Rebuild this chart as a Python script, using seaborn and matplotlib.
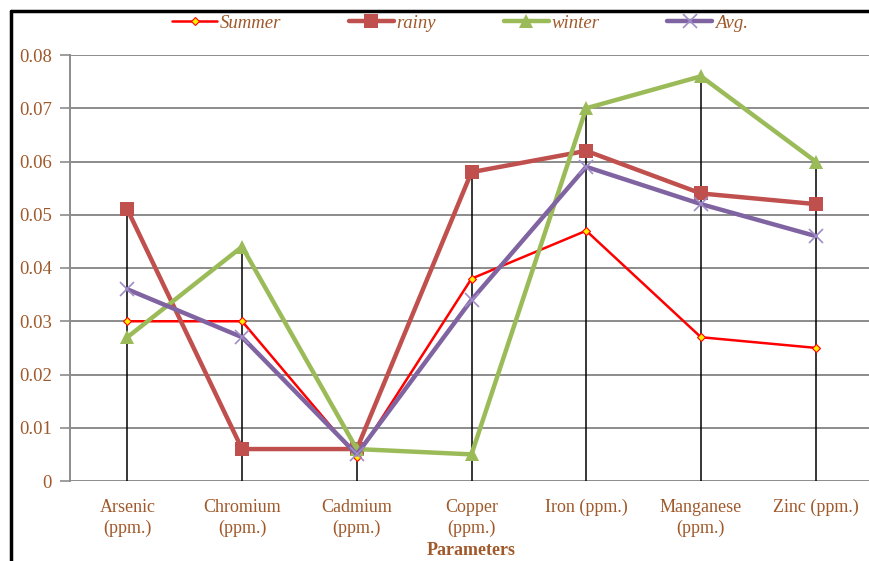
import matplotlib
matplotlib.use("Agg")
import matplotlib.pyplot as plt
import seaborn as sns
import pandas as pd
import numpy as np

categories = ["Arsenic\n(ppm.)", "Chromium\n(ppm.)", "Cadmium\n(ppm.)", "Copper\n(ppm.)",
              "Iron (ppm.)", "Manganese\n(ppm.)", "Zinc (ppm.)"]
summer = [0.030, 0.030, 0.0045, 0.038, 0.047, 0.027, 0.025]
rainy = [0.051, 0.006, 0.006, 0.058, 0.062, 0.054, 0.052]
winter = [0.027, 0.044, 0.006, 0.005, 0.070, 0.076, 0.060]
avg = [0.036, 0.027, 0.005, 0.034, 0.059, 0.052, 0.046]
series_names = ["Summer", "rainy", "winter", "Avg."]
y_ticks = [0, 0.01, 0.02, 0.03, 0.04, 0.05, 0.06, 0.07, 0.08]
y_tick_labels = ["0", "0.01", "0.02", "0.03", "0.04", "0.05", "0.06", "0.07", "0.08"]

sns.set_theme(style="white")
plt.rcParams["font.family"] = ["Liberation Serif", "DejaVu Serif"]

brown = "#A0592A"
pos = np.arange(len(categories))
frames = []
for name, vals in zip(series_names, [summer, rainy, winter, avg]):
    frames.append(pd.DataFrame({"pos": pos, "value": vals, "series": name}))
df = pd.concat(frames, ignore_index=True)

fig = plt.figure(figsize=(8.69, 5.61), dpi=100)
ax = fig.add_axes([70 / 869, (561 - 481) / 561, 803 / 869, (481 - 55) / 561])

# horizontal gridlines
for t in y_ticks:
    ax.axhline(t, color="#8c8c8c", lw=1.4, zorder=0)

# drop lines from the highest series value down to the axis
tops = np.max(np.vstack([summer, rainy, winter, avg]), axis=0)
ax.vlines(pos, 0, tops, color="black", lw=1.1, zorder=1)

styles = {
    "Summer": dict(color="#FF0000", lw=1.8, marker="D", ms=4.5, mfc="#FFEE00", mec="#FF0000", mew=0.8),
    "rainy": dict(color="#C0504D", lw=3.2, marker="s", ms=10, mfc="#C0504D", mec="#C0504D", mew=0),
    "winter": dict(color="#9BBB59", lw=3.2, marker="^", ms=10.5, mfc="#9BBB59", mec="#9BBB59", mew=0),
    "Avg.": dict(color="#8064A2", lw=3.2, marker="x", ms=10, mfc="none", mec="#A08CC8", mew=1.2),
}
handles = []
for name in series_names:
    st = styles[name]
    sub = df[df["series"] == name]
    sns.lineplot(data=sub, x="pos", y="value", ax=ax, sort=False, color=st["color"],
                 lw=st["lw"], marker=st["marker"], markersize=st["ms"],
                 markerfacecolor=st["mfc"], markeredgecolor=st["mec"],
                 markeredgewidth=st["mew"], zorder=3, label=name, legend=False)
    handles.append(ax.lines[-1])

ax.set_xlim(-0.5, len(categories) - 0.5)
ax.set_ylim(0, 0.08)
ax.set_yticks(y_ticks)
ax.set_yticklabels(y_tick_labels)
ax.set_xticks(pos)
ax.set_xticklabels(categories)
ax.tick_params(axis="y", which="both", left=True, length=7, width=1.2, color="#8c8c8c",
               labelsize=13.5, labelcolor=brown, pad=6)
ax.tick_params(axis="x", length=0, labelsize=13, labelcolor=brown, pad=13)
for lab in ax.get_xticklabels():
    lab.set_linespacing(1.3)
for s in ["top", "right", "bottom"]:
    ax.spines[s].set_visible(False)
ax.spines["left"].set_color("#8c8c8c")
ax.spines["left"].set_linewidth(1.4)
ax.set_ylabel("")
ax.set_xlabel("Parameters", fontsize=13, fontweight="bold", color=brown, labelpad=3)

fig.legend(handles, series_names, loc="center", bbox_to_anchor=(460 / 869, 1 - 23 / 561),
           ncol=4, frameon=False, handlelength=2.4, handletextpad=0.15, columnspacing=3.6,
           prop={"family": "Liberation Serif", "style": "italic", "size": 13.5},
           labelcolor=brown)

# outer chart frame
fig.add_artist(plt.Line2D([11 / 869, 11 / 869], [0, 1 - 11 / 561], color="black", lw=2.5,
                          transform=fig.transFigure))
fig.add_artist(plt.Line2D([11 / 869, 1], [1 - 11 / 561, 1 - 11 / 561], color="black", lw=2.5,
                          transform=fig.transFigure))

fig.savefig("out.png", dpi=100)
